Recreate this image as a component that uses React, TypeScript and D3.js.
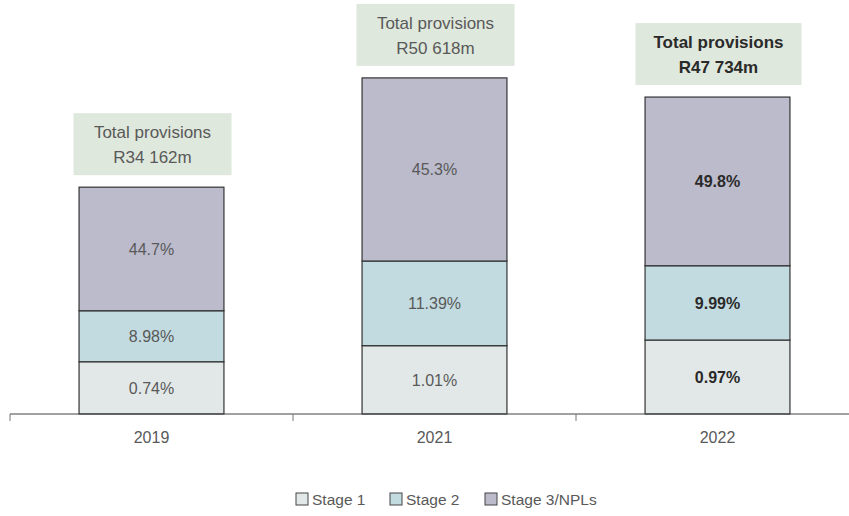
import React from "react";
import * as d3 from "d3";

const years = ["2019", "2021", "2022"];
const stage1 = [7870, 10290, 11140];
const stage2 = [7680, 12750, 11190];
const stage3 = [18612, 27578, 25404];
const stage1Labels = ["0.74%", "1.01%", "0.97%"];
const stage2Labels = ["8.98%", "11.39%", "9.99%"];
const stage3Labels = ["44.7%", "45.3%", "49.8%"];
const totalLabels = ["R34 162m", "R50 618m", "R47 734m"];
const boldYear = [false, false, true];
const seriesNames = ["Stage 1", "Stage 2", "Stage 3/NPLs"];
const colors = ["#e2e8e8", "#c2dbe0", "#bcbbcc"];

const W = 849;
const H = 516;
const FONT = "'Liberation Sans', Arial, Helvetica, sans-serif";

export default function App() {
  const x = d3.scaleBand().domain(years).range([10, 859]).paddingInner(0.488).paddingOuter(0.244);
  const y = d3.scaleLinear().domain([0, 62350]).range([414, 0]);
  const rows = years.map((yr, i) => ({ year: yr, s1: stage1[i], s2: stage2[i], s3: stage3[i] }));
  const stack = d3.stack<any>().keys(["s1", "s2", "s3"])(rows);
  const labels = [stage1Labels, stage2Labels, stage3Labels];
  const bw = x.bandwidth();
  const step = x.step();
  const tickXs = years.map((yr) => (x(yr) as number) + bw / 2 - step / 2);

  return (
    <svg width={W} height={H} style={{ position: "absolute", left: 0, top: 0 }} fontFamily={FONT}>
      {stack.map((layer, li) => (
        <g key={li}>
          {layer.map((d, i) => {
            const x0 = x(years[i]) as number;
            const yTop = y(d[1]);
            const yBot = y(d[0]);
            const bold = boldYear[i];
            return (
              <g key={i}>
                <rect x={x0} y={yTop} width={bw} height={yBot - yTop} fill={colors[li]} stroke="#333" strokeWidth={1.2} />
                <text
                  x={x0 + bw / 2}
                  y={(yTop + yBot) / 2}
                  dy="0.36em"
                  textAnchor="middle"
                  fontSize={16}
                  fontWeight={bold ? 700 : 400}
                  fill={bold ? "#2a2a2a" : "#595959"}
                >
                  {labels[li][i]}
                </text>
              </g>
            );
          })}
        </g>
      ))}
      {years.map((yr, i) => {
        const cx = (x(yr) as number) + bw / 2 + 1;
        const top = y(stage1[i] + stage2[i] + stage3[i]);
        const bold = boldYear[i];
        const bwBox = bold ? 166 : 158;
        const bh = 62;
        const by = top - 12 - bh;
        return (
          <g key={yr}>
            <rect x={cx - bwBox / 2} y={by} width={bwBox} height={bh} fill="#dfe8dc" />
            <text x={cx} y={by + bh / 2 - 12} dy="0.36em" textAnchor="middle" fontSize={17} fontWeight={bold ? 700 : 400} fill={bold ? "#2a2a2a" : "#595959"}>
              Total provisions
            </text>
            <text x={cx} y={by + bh / 2 + 13} dy="0.36em" textAnchor="middle" fontSize={17} fontWeight={bold ? 700 : 400} fill={bold ? "#2a2a2a" : "#595959"}>
              {totalLabels[i]}
            </text>
          </g>
        );
      })}
      <line x1={10} x2={W} y1={414} y2={414} stroke="#444" strokeWidth={1.2} />
      {tickXs.map((tx, i) => (
        <line key={i} x1={tx} x2={tx} y1={414} y2={421} stroke="#777" strokeWidth={1} />
      ))}
      {years.map((yr) => (
        <text key={yr} x={(x(yr) as number) + bw / 2} y={443} textAnchor="middle" fontSize={16} fill="#595959">
          {yr}
        </text>
      ))}
      {seriesNames.map((name, i) => {
        const lx = [296, 390, 485][i];
        return (
          <g key={name}>
            <rect x={lx} y={493} width={12} height={12} fill={colors[i]} stroke="#444" strokeWidth={1} />
            <text x={lx + 16} y={505} fontSize={15.5} fill="#595959">
              {name}
            </text>
          </g>
        );
      })}
    </svg>
  );
}
